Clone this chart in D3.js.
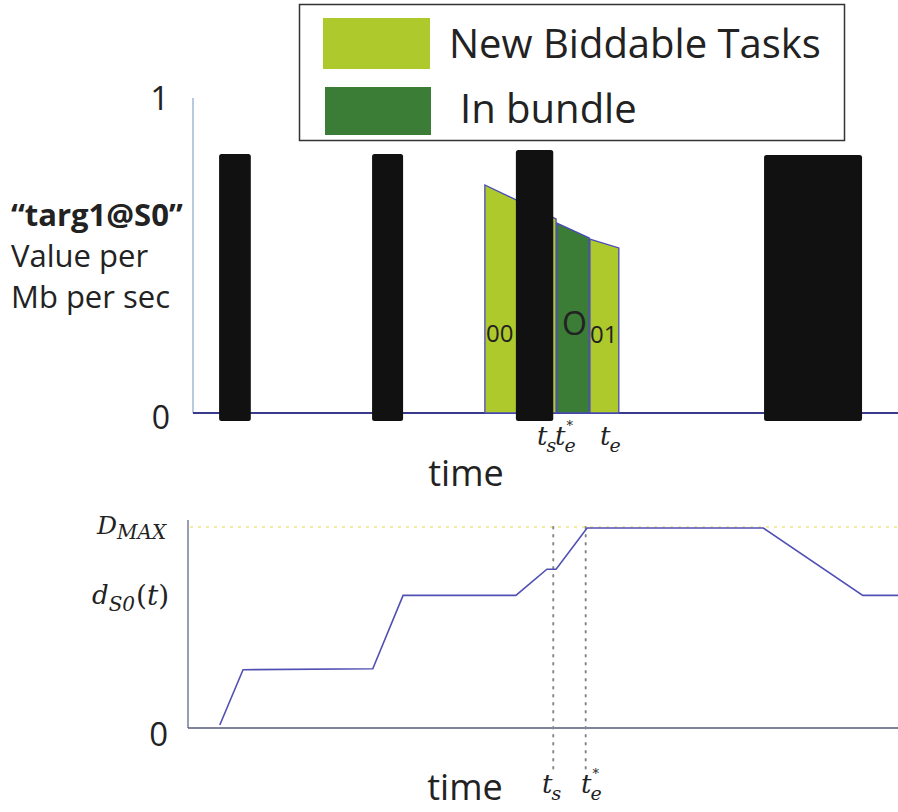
<!DOCTYPE html>
<html>
<head>
<meta charset="utf-8">
<script src="https://cdn.jsdelivr.net/npm/d3@7/dist/d3.min.js"></script>
<style>
html,body{margin:0;padding:0;background:#fff;}
svg{display:block;}
</style>
</head>
<body>
<svg id="chart" width="898" height="812"></svg>
<script>
// ---------- DATA ----------
// Top panel: other tasks (black bars), time in [0,100], value in [0,1]
const barStart = [3.7, 25.4, 45.8, 81.0];
const barEnd   = [8.2, 29.8, 51.1, 94.9];
const barTop   = [0.822, 0.822, 0.835, 0.819];
const barBottom = -0.025;

// Green task segments (start, end, top at start, top at end, kind)
const segStart    = [41.4, 51.6, 56.3];
const segEnd      = [51.5, 56.2, 60.4];
const segTopStart = [0.724, 0.603, 0.552];
const segTopEnd   = [0.616, 0.556, 0.524];
const segKind     = ["new", "bundle", "new"];

const legendLabels = ["New Biddable Tasks", "In bundle"];

// Bottom panel: d_S0(t) piecewise linear
const dTime  = [3.8, 7.1, 25.5, 29.8, 45.8, 50.2, 51.5, 55.9, 80.9, 95.0, 100];
const dValue = [0.015, 0.29, 0.295, 0.66, 0.66, 0.79, 0.79, 0.995, 0.995, 0.66, 0.66];
const dMax = 1;

const tS = 51.1, tEstar = 55.7, tE = 60.4;

// ---------- SCALES ----------
const svg = d3.select("#chart");
const x = d3.scaleLinear().domain([0, 100]).range([193, 898]);
const yTop = d3.scaleLinear().domain([0, 1]).range([413, 98]);
const xB = d3.scaleLinear().domain([0, 100]).range([190, 898]);
const yBot = d3.scaleLinear().domain([0, 1]).range([728, 527]);

const colors = { new: "#aec92c", bundle: "#3b7d36" };
const sans = "'Open Sans', Lato, sans-serif";
const serif = "'DejaVu Serif', 'Liberation Serif', serif";

// ---------- LEGEND ----------
const lg = svg.append("g");
lg.append("rect").attr("x", 299.5).attr("y", 4.5).attr("width", 545).attr("height", 136)
  .attr("fill", "#fff").attr("stroke", "#333").attr("stroke-width", 1.5);
lg.append("rect").attr("x", 323).attr("y", 18).attr("width", 107).attr("height", 51).attr("fill", colors.new);
lg.append("rect").attr("x", 325).attr("y", 87).attr("width", 106).attr("height", 48).attr("fill", colors.bundle);
lg.append("text").attr("x", 449).attr("y", 58).text(legendLabels[0])
  .attr("font-family", sans).attr("font-size", 40).attr("fill", "#222");
lg.append("text").attr("x", 460).attr("y", 123).text(legendLabels[1])
  .attr("font-family", sans).attr("font-size", 40).attr("fill", "#222");

// ---------- TOP PANEL ----------
const topG = svg.append("g");
topG.append("line").attr("x1", x(0)).attr("x2", x(0)).attr("y1", yTop(1)).attr("y2", yTop(0))
  .attr("stroke", "#8aa6cc").attr("stroke-width", 1.2);
topG.append("line").attr("x1", x(0)).attr("x2", x(100)).attr("y1", yTop(0)).attr("y2", yTop(0))
  .attr("stroke", "#3a3a8c").attr("stroke-width", 2);

segStart.forEach((s, i) => {
  const pts = [[x(s), yTop(0)], [x(s), yTop(segTopStart[i])], [x(segEnd[i]), yTop(segTopEnd[i])], [x(segEnd[i]), yTop(0)]];
  topG.append("path").attr("d", d3.line()(pts) + "Z")
    .attr("fill", colors[segKind[i]]).attr("stroke", "#4a4ab8").attr("stroke-width", 1.3);
});

topG.append("text").attr("x", 486).attr("y", 342).text("00")
  .attr("font-family", sans).attr("font-size", 24).attr("fill", "#222");
topG.append("text").attr("x", 562).attr("y", 335).text("O")
  .attr("font-family", sans).attr("font-size", 32).attr("fill", "#222");
topG.append("text").attr("x", 590).attr("y", 343).text("01")
  .attr("font-family", sans).attr("font-size", 24).attr("fill", "#222");

barStart.forEach((s, i) => {
  topG.append("rect").attr("x", x(s)).attr("y", yTop(barTop[i]))
    .attr("width", x(barEnd[i]) - x(s)).attr("height", yTop(barBottom) - yTop(barTop[i]))
    .attr("rx", 2.5).attr("fill", "#111");
});

topG.append("text").attr("x", 169).attr("y", 110).attr("text-anchor", "end").text("1")
  .attr("font-family", sans).attr("font-size", 33).attr("fill", "#222");
topG.append("text").attr("x", 170).attr("y", 429).attr("text-anchor", "end").text("0")
  .attr("font-family", sans).attr("font-size", 32).attr("fill", "#222");

const yl = topG.append("text").attr("font-family", sans).attr("font-size", 31).attr("fill", "#222");
yl.append("tspan").attr("x", 11).attr("y", 226).attr("font-weight", "bold").text("\u201Ctarg1@S0\u201D");
yl.append("tspan").attr("x", 11).attr("y", 267).text("Value per");
yl.append("tspan").attr("x", 11).attr("y", 308).text("Mb per sec");

// math-style label as separate text elements (main, subscript, superscript)
function mathLabel(g, xp, yp, main, sub, sup, size, subSize) {
  const base = (el) => el.attr("font-family", serif).attr("font-style", "italic").attr("fill", "#222");
  const m = base(g.append("text")).attr("x", xp).attr("y", yp).attr("font-size", size).text(main);
  const mw = m.node().getComputedTextLength();
  if (sub) base(g.append("text")).attr("x", xp + mw - 1).attr("y", yp + 6.5)
    .attr("font-size", subSize).text(sub);
  if (sup) base(g.append("text")).attr("x", xp + mw + 1).attr("y", yp - 15)
    .attr("font-size", 13).text(sup);
}
mathLabel(topG, 537, 445, "t", "s", null, 26, 19);
mathLabel(topG, 555, 445, "t", "e", "*", 26, 19);
mathLabel(topG, 600, 445, "t", "e", null, 26, 19);

topG.append("text").attr("x", 466).attr("y", 486).attr("text-anchor", "middle").text("time")
  .attr("font-family", sans).attr("font-size", 36).attr("fill", "#222");

// ---------- BOTTOM PANEL ----------
const bot = svg.append("g");
bot.append("line").attr("x1", 188).attr("x2", 188).attr("y1", 520).attr("y2", yBot(0))
  .attr("stroke", "#555a80").attr("stroke-width", 1.2);
bot.append("line").attr("x1", 188).attr("x2", xB(100)).attr("y1", yBot(0)).attr("y2", yBot(0))
  .attr("stroke", "#555a78").attr("stroke-width", 1.6);
bot.append("line").attr("x1", 190).attr("x2", xB(100)).attr("y1", yBot(dMax)).attr("y2", yBot(dMax))
  .attr("stroke", "#e8d84a").attr("stroke-width", 1.2).attr("stroke-dasharray", "3,5");
[tS, tEstar].forEach(t => {
  bot.append("line").attr("x1", x(t)).attr("x2", x(t)).attr("y1", yBot(dMax)).attr("y2", 771)
    .attr("stroke", "#888").attr("stroke-width", 2).attr("stroke-dasharray", "1.5,6.5").attr("stroke-linecap", "round");
});
const ln = d3.line().x(d => x(d[0])).y(d => yBot(d[1]));
bot.append("path").attr("d", ln(dTime.map((t, i) => [t, dValue[i]])))
  .attr("fill", "none").attr("stroke", "#5050b4").attr("stroke-width", 1.6);

// D_MAX
const dmText = bot.append("text").attr("x", 97).attr("y", 534).attr("font-family", serif)
  .attr("font-style", "italic").attr("font-size", 25).attr("fill", "#222").text("D");
const dmW = dmText.node().getComputedTextLength();
bot.append("text").attr("x", 97 + dmW).attr("y", 539).attr("font-family", serif)
  .attr("font-style", "italic").attr("font-size", 20).attr("fill", "#222").text("MAX");
// d_S0(t)
const dText = bot.append("text").attr("x", 92).attr("y", 604).attr("font-family", serif)
  .attr("font-style", "italic").attr("font-size", 26).attr("fill", "#222").text("d");
const dW = dText.node().getComputedTextLength();
const sText = bot.append("text").attr("x", 92 + dW).attr("y", 611).attr("font-family", serif)
  .attr("font-style", "italic").attr("font-size", 20).attr("fill", "#222").text("S0");
const sW = sText.node().getComputedTextLength();
const pt = bot.append("text").attr("x", 92 + dW + sW + 1).attr("y", 605).attr("font-family", serif)
  .attr("font-size", 28).attr("fill", "#222");
pt.append("tspan").text("(");
pt.append("tspan").attr("font-style", "italic").text("t");
pt.append("tspan").text(")");

bot.append("text").attr("x", 168).attr("y", 746).attr("text-anchor", "end").text("0")
  .attr("font-family", sans).attr("font-size", 33).attr("fill", "#222");

mathLabel(bot, 542, 793, "t", "s", null, 26, 19);
mathLabel(bot, 581, 793, "t", "e", "*", 26, 19);
bot.append("text").attr("x", 465).attr("y", 800).attr("text-anchor", "middle").text("time")
  .attr("font-family", sans).attr("font-size", 36).attr("fill", "#222");
</script>
</body>
</html>
